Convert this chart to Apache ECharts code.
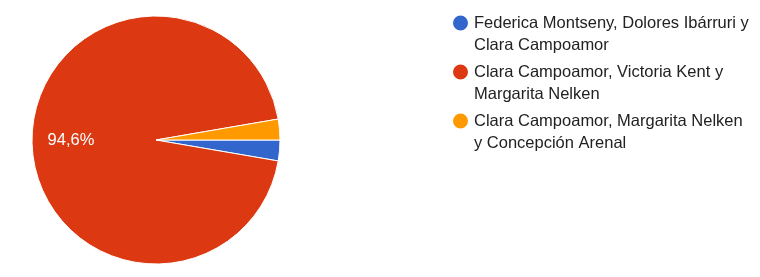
<!DOCTYPE html>
<html><head><meta charset="utf-8">
<script src="https://cdn.jsdelivr.net/npm/echarts@6/dist/echarts.min.js"></script>
<style>html,body{margin:0;padding:0;background:#fff}#c{width:760px;height:277px}</style>
</head><body><div id="c"></div>
<script>
var categories = [
  "Federica Montseny, Dolores Ibárruri y\nClara Campoamor",
  "Clara Campoamor, Victoria Kent y\nMargarita Nelken",
  "Clara Campoamor, Margarita Nelken\ny Concepción Arenal"
];
var values = [1, 35, 1];
var colors = ["#3366cc", "#dc3912", "#ff9900"];

var chart = echarts.init(document.getElementById('c'), null, {renderer: 'canvas'});
chart.setOption({
  animation: false,
  color: colors,
  legend: {
    orient: 'vertical',
    left: 451,
    top: -10,
    padding: 0,
    itemGap: -17,
    icon: 'circle',
    itemWidth: 17,
    itemHeight: 17,
    formatter: function (n) { return '\n' + n; },
    textStyle: {
      fontFamily: 'Liberation Sans, Arial, sans-serif',
      fontSize: 16.5,
      color: '#222222',
      lineHeight: 22
    },
    data: categories
  },
  series: [{
    type: 'pie',
    center: [156, 140],
    radius: 124,
    startAngle: 0,
    clockwise: true,
    itemStyle: {borderColor: '#ffffff', borderWidth: 1},
    label: {
      position: 'inside',
      color: '#ffffff',
      fontFamily: 'Liberation Sans, Arial, sans-serif',
      fontSize: 16.5,
      formatter: function (p) {
        return p.percent < 5 ? '' : p.percent.toFixed(1).replace('.', ',') + '%';
      }
    },
    labelLayout: {dx: -20},
    labelLine: {show: false},
    emphasis: {disabled: true},
    data: categories.map(function (c, i) { return {name: c, value: values[i]}; })
  }]
});
</script></body></html>
